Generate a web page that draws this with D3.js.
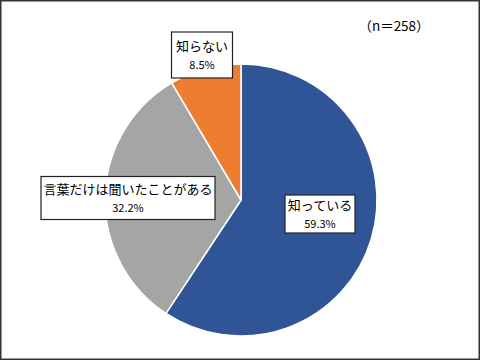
<!DOCTYPE html>
<html><head><meta charset="utf-8">
<script src="https://cdn.jsdelivr.net/npm/d3@7"></script>
<style>body{margin:0;background:#fff}svg{display:block}</style>
</head><body>
<script>
const categories = ["知っている", "言葉だけは聞いたことがある", "知らない"];
const values = [59.3, 32.2, 8.5];
const colors = ["#2F5597", "#A5A5A5", "#ED7D31"];
const note = "（n＝258）";

const W = 480, H = 361;
const cx = 241, cy = 200, R = 136;
const font = "'Noto Sans CJK JP', 'Noto Sans', sans-serif";

const svg = d3.select("body").append("svg").attr("width", W).attr("height", H);
svg.append("rect").attr("x", 0.75).attr("y", 0.75).attr("width", W - 1.5).attr("height", H - 2.5)
  .attr("fill", "#fff").attr("stroke", "#333").attr("stroke-width", 1.5);

const pie = d3.pie().sort(null).value(d => d)(values);
const arc = d3.arc().innerRadius(0).outerRadius(R);
const g = svg.append("g").attr("transform", `translate(${cx},${cy})`);
g.selectAll("path").data(pie).join("path")
  .attr("d", arc).attr("fill", (d, i) => colors[i])
  .attr("stroke", "#fff").attr("stroke-width", 1.5).attr("stroke-linejoin", "round");

// label boxes: [cx, cy, w, h]
const boxes = [[320, 214, 70, 38], [128, 198, 174, 43], [202, 55, 61, 46]];
const lg = svg.append("g");
boxes.forEach((b, i) => {
  const [bx, by, bw, bh] = b;
  lg.append("rect").attr("x", bx - bw / 2).attr("y", by - bh / 2).attr("width", bw).attr("height", bh)
    .attr("fill", "#fff").attr("stroke", "#222").attr("stroke-width", 1.2);
  lg.append("text").attr("x", bx).attr("y", by - 4).attr("text-anchor", "middle")
    .attr("font-family", font).attr("font-size", 13).attr("fill", "#000").text(categories[i]);
  lg.append("text").attr("x", bx).attr("y", by + 14).attr("text-anchor", "middle")
    .attr("font-family", font).attr("font-size", 11).attr("fill", "#000")
    .text(d3.format(".1f")(values[i]) + "%");
});

svg.append("text").attr("x", 394).attr("y", 31).attr("text-anchor", "middle")
  .attr("font-family", font).attr("font-size", 13.5).attr("fill", "#000").text(note);
</script>
</body></html>
